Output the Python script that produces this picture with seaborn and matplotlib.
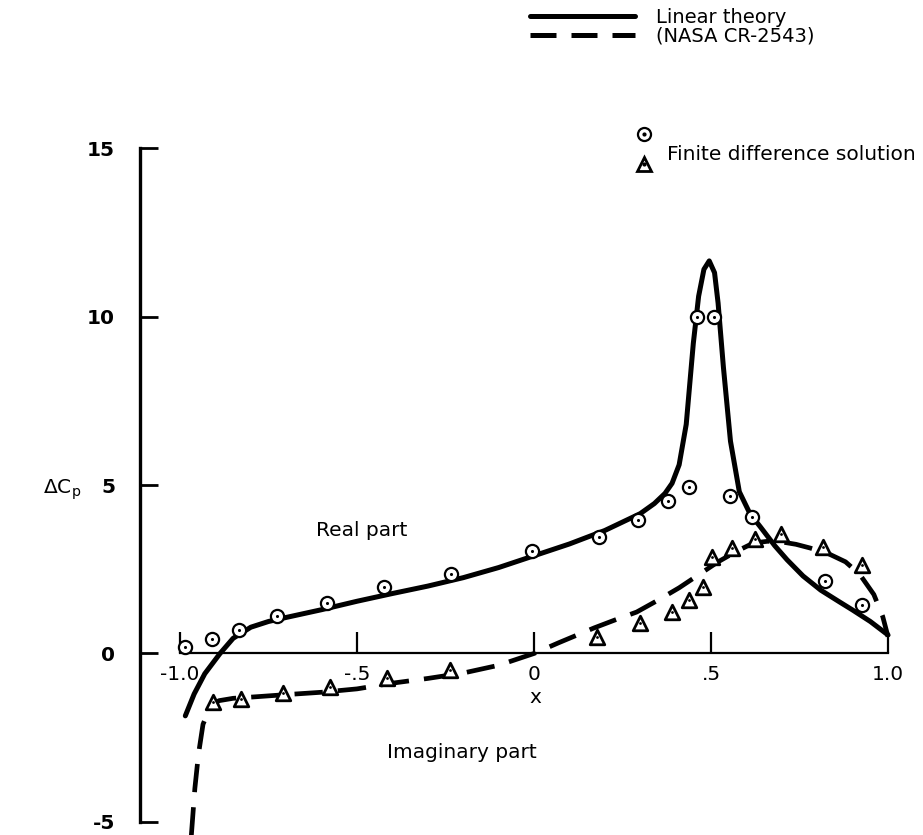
import matplotlib
matplotlib.use("Agg")
import matplotlib.pyplot as plt
import seaborn as sns
from matplotlib.lines import Line2D

# ---- data ----
real_x = [-0.985, -0.96, -0.93, -0.887, -0.85, -0.80, -0.75, -0.70, -0.60, -0.50,
          -0.40, -0.30, -0.20, -0.10, 0.0, 0.10, 0.20, 0.30, 0.34, 0.37, 0.39,
          0.41, 0.43, 0.45, 0.465, 0.48, 0.495, 0.51, 0.52, 0.535, 0.555, 0.58,
          0.61, 0.64, 0.68, 0.715, 0.76, 0.81, 0.86, 0.90, 0.95, 1.0]
real_y = [-1.85, -1.2, -0.6, 0.0, 0.45, 0.78, 0.95, 1.07, 1.3, 1.55,
          1.78, 2.0, 2.25, 2.55, 2.9, 3.25, 3.65, 4.15, 4.45, 4.75, 5.05,
          5.6, 6.8, 9.2, 10.6, 11.4, 11.65, 11.3, 10.4, 8.5, 6.3, 4.8,
          4.15, 3.75, 3.2, 2.78, 2.3, 1.88, 1.55, 1.29, 0.95, 0.55]

imag_x = [-0.968, -0.958, -0.948, -0.935, -0.915, -0.89, -0.85, -0.78, -0.70,
          -0.60, -0.50, -0.40, -0.30, -0.20, -0.10, 0.0, 0.07, 0.17, 0.23,
          0.29, 0.35, 0.41, 0.46, 0.52, 0.57, 0.62, 0.66, 0.70, 0.74, 0.78,
          0.83, 0.88, 0.92, 0.96, 0.985, 1.0]
imag_y = [-5.4, -4.0, -3.0, -2.1, -1.6, -1.4, -1.33, -1.28, -1.22,
          -1.15, -1.05, -0.88, -0.74, -0.58, -0.35, 0.0, 0.32, 0.76, 1.0,
          1.23, 1.58, 1.95, 2.3, 2.72, 3.02, 3.28, 3.33, 3.31, 3.24, 3.13,
          2.97, 2.72, 2.35, 1.75, 1.1, 0.5]

fd_real_x = [-0.986, -0.91, -0.833, -0.726, -0.585, -0.424, -0.235, -0.005, 0.184,
             0.294, 0.378, 0.438, 0.46, 0.508, 0.554, 0.616, 0.822, 0.926]
fd_real_y = [0.19, 0.43, 0.7, 1.1, 1.5, 1.97, 2.36, 3.05, 3.46,
             3.96, 4.53, 4.94, 10.0, 10.0, 4.67, 4.04, 2.15, 1.44]

fd_imag_x = [-0.906, -0.827, -0.709, -0.576, -0.415, -0.237, 0.178, 0.299, 0.39,
             0.438, 0.477, 0.503, 0.559, 0.624, 0.698, 0.816, 0.926]
fd_imag_y = [-1.44, -1.35, -1.17, -1.0, -0.73, -0.49, 0.49, 0.91, 1.23,
             1.59, 1.97, 2.86, 3.13, 3.4, 3.55, 3.16, 2.63]

x_ticks = [-1.0, -0.5, 0.0, 0.5, 1.0]
x_tick_labels = ["-1.0", "-.5", "0", ".5", "1.0"]
y_ticks = [-5, 0, 5, 10, 15]
y_tick_labels = ["-5", "0", "5", "10", "15"]

# ---- style ----
sns.set_theme(style="ticks", rc={"axes.edgecolor": "black", "text.color": "black",
                                 "xtick.color": "black", "ytick.color": "black",
                                 "axes.labelcolor": "black"})
plt.rcParams["font.family"] = ["DejaVu Sans"]

fig = plt.figure(figsize=(9.23, 8.35), dpi=100)
ax = fig.add_axes([140 / 923, 0, 773 / 923, 697 / 835])
ax.set_facecolor("white")

sns.lineplot(x=real_x, y=real_y, ax=ax, color="black", lw=3.6, sort=False,
             estimator=None, zorder=3)
sns.lineplot(x=imag_x, y=imag_y, ax=ax, color="black", lw=3.4, sort=False,
             estimator=None, linestyle=(0, (6, 3.2)), zorder=3)

sns.scatterplot(x=fd_real_x, y=fd_real_y, ax=ax, marker="o", s=90, color="black",
                facecolor="white", edgecolor="black", linewidth=1.6, zorder=4)
sns.scatterplot(x=fd_real_x, y=fd_real_y, ax=ax, marker="o", s=5, color="black",
                linewidth=0, zorder=5)
sns.scatterplot(x=fd_imag_x, y=fd_imag_y, ax=ax, marker="^", s=110, color="black",
                facecolor="white", edgecolor="black", linewidth=2.0, zorder=4)
sns.scatterplot(x=fd_imag_x, y=fd_imag_y, ax=ax, marker="o", s=4, color="black",
                linewidth=0, zorder=5)

ax.set_xlim(-1.113, 1.0706)
ax.set_ylim(-5.386, 15.297)

for s in ["top", "right"]:
    ax.spines[s].set_visible(False)
ax.spines["left"].set_bounds(-5, 15)
ax.spines["left"].set_linewidth(2.4)
ax.spines["bottom"].set_position(("data", 0))
ax.spines["bottom"].set_bounds(-1, 1)
ax.spines["bottom"].set_linewidth(1.6)

ax.set_xticks(x_ticks, x_tick_labels)
ax.set_yticks(y_ticks, y_tick_labels)
ax.tick_params(axis="y", left=True, direction="in", length=13, width=2.0, pad=18,
               labelsize=14.5)
ax.tick_params(axis="x", bottom=True, direction="in", length=15, width=1.6, pad=8,
               labelsize=14.5)
for lbl in ax.get_yticklabels():
    lbl.set_fontweight("bold")

ax.set_ylabel(r"ΔC$_\mathregular{p}$", rotation=0, fontsize=14.5, va="center", ha="center")
ax.yaxis.set_label_coords(-0.101, 0.495)
ax.set_xlabel("x", fontsize=14.5)
ax.xaxis.set_label_coords(0.511, 0.197)
ax.xaxis.label.set_va("center")

ax.text(-0.486, 3.66, "Real part", ha="center", va="center", fontsize=14.5)
ax.text(-0.203, -2.95, "Imaginary part", ha="center", va="center", fontsize=14.5)

# ---- legends ----
h_solid = Line2D([], [], color="black", lw=3.6)
h_dash = Line2D([], [], color="black", lw=3.6, linestyle=(0, (5.2, 3.0)))
leg1 = fig.legend([h_solid, h_dash], ["Linear theory", "(NASA CR-2543)"],
                  loc="upper left", bbox_to_anchor=(530 / 923, 1 - 8 / 835),
                  frameon=False, fontsize=14, handlelength=5.4, handletextpad=1.1,
                  labelspacing=0.0, borderpad=0, borderaxespad=0)

h_circ = (Line2D([], [], marker="o", ms=9.4, mfc="white", mec="black", mew=1.6, ls="none"),
          Line2D([], [], marker="o", ms=2, mfc="black", mec="black", ls="none"))
h_tri = (Line2D([], [], marker="^", ms=10, mfc="white", mec="black", mew=2.0, ls="none"),
         Line2D([], [], marker="o", ms=2, mfc="black", mec="black", ls="none"))
leg2 = fig.legend([h_circ, h_tri], [" ", " "], loc="upper left",
                  bbox_to_anchor=(634 / 923, 1 - 126 / 835), frameon=False,
                  fontsize=14, handlelength=1.0, handletextpad=0.2,
                  labelspacing=0.55, borderpad=0, borderaxespad=0)
fig.text(667 / 923, 1 - 155 / 835, "Finite difference solution", ha="left",
         va="center", fontsize=14.5)

fig.savefig("out.png", dpi=100)
